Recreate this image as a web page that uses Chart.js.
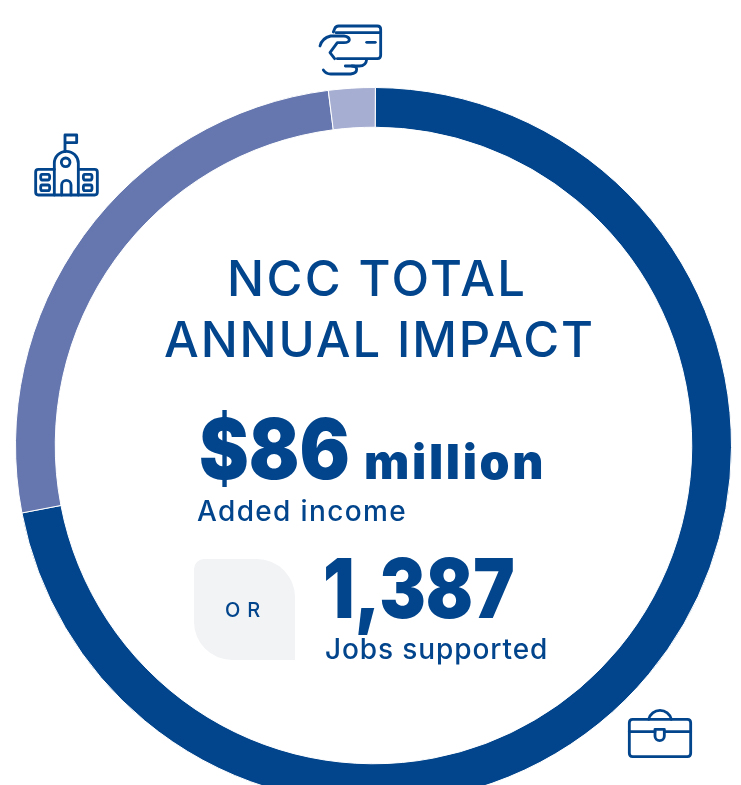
<!DOCTYPE html>
<html>
<head>
<meta charset="utf-8">
<script src="https://cdn.jsdelivr.net/npm/chart.js@4"></script>
<style>
    html, body { margin: 0; padding: 0; background: #fff; }
    #wrap { position: relative; width: 741px; height: 785px; overflow: hidden; }
    #wrap canvas { position: absolute; left: 0; top: 0; }
</style>
</head>
<body>
<div id="wrap"><canvas id="ringChart" width="747" height="891" style="width:747px;height:891px"></canvas></div>
<script>
// =====================
//  DATA
// =====================
const SLICE_LABELS = ["Jobs", "School", "Card"];
const SLICE_VALUES = [71.9, 26.0, 2.1];
const SLICE_COLORS = ["#03458c", "#6577ae", "#a6aed2"];

const BLUE = "#03458c";
const FONT = "Inter, 'Noto Sans', sans-serif";

// text, x, baseline y, font, letter spacing, x squeeze
const TEXTS = [
    ["NCC TOTAL", 227, 296, "500 49px " + FONT, "2.4px", 1],
    ["ANNUAL IMPACT", 164, 357, "500 49px " + FONT, "1.9px", 1],
    ["$86", 199, 479, "900 84px " + FONT, "0px", 0.89],
    ["million", 364, 479, "900 48px " + FONT, "2.7px", 1],
    ["Added income", 197, 521, "500 28px " + FONT, "1.35px", 1],
    ["OR", 225, 617, "500 20px " + FONT, "7px", 1],
    ["1,387", 323, 618, "900 83px " + FONT, "0px", 0.84],
    ["Jobs supported", 325, 659, "500 28px " + FONT, "0.9px", 1]
];

// icons are traced at 3x, dx/dy is the crop corner
const ICONS = [
    { dx: 300, dy: 10, paths: [
        "M100 66 L104 56 Q107 48 116 48 L232 48 Q242 48 242 58 L242 136 Q242 146 232 146 L112 146",
        "M108 68 L242 68",
        "M200 97 L226 97",
        "M60 108 Q66 84 92 78 L132 78 Q148 80 148 90 Q146 98 132 98 L112 98 L90 128 L104 146",
        "M200 148 Q198 168 178 168 L136 168",
        "M70 180 Q78 192 92 192 L152 192 Q170 190 170 178 Q170 168 156 168"
    ] },
    { dx: 20, dy: 120, paths: [
        "M135 95 L135 45 L170 45 L170 68 L135 68",
        "M103 225 L103 130 A36 36 0 0 1 175 130 L175 225",
        "M150 127 A13 13 0 1 1 124 127 A13 13 0 1 1 150 127",
        "M125 225 L125 195 A14 14 0 0 1 153 195 L153 225",
        "M103 148 L55 148 Q47 148 47 156 L47 217 Q47 225 55 225 L224 225 Q232 225 232 217 L232 156 Q232 148 224 148 L175 148",
        "M66 163 L84 163 Q89 163 89 171 Q89 180 84 180 L66 180 Q62 180 62 171 Q62 163 66 163",
        "M66 195 L84 195 Q89 195 89 203 Q89 212 84 212 L66 212 Q62 212 62 203 Q62 195 66 195",
        "M194 163 L212 163 Q216 163 216 171 Q216 180 212 180 L194 180 Q190 180 190 171 Q190 163 194 163",
        "M194 195 L212 195 Q216 195 216 203 Q216 212 212 212 L194 212 Q190 212 190 203 Q190 195 194 195"
    ] },
    { dx: 610, dy: 690, paths: [
        "M68 88 L232 88 Q242 88 242 98 L242 190 Q242 200 232 200 L68 200 Q58 200 58 190 L58 98 Q58 88 68 88",
        "M58 125 L135 125",
        "M163 125 L242 125",
        "M135 118 L163 118 L163 138 A14 14 0 0 1 135 138 Z",
        "M116 88 A35 35 0 0 1 184 88"
    ] }
];


// =====================
//  TEXT + ICONS OVERLAY
// =====================
const overlayPlugin = {
    id: "overlay",
    afterDraw(chart) {
        const ctx = chart.ctx;

        // OR box
        ctx.save();
        ctx.fillStyle = "#f2f3f5";
        ctx.beginPath();
        ctx.roundRect(194, 559, 101, 101, [10, 38, 0, 38]);
        ctx.fill();
        ctx.restore();

        TEXTS.forEach(([text, x, y, font, spacing, squeeze]) => {
            ctx.save();
            ctx.fillStyle = BLUE;
            ctx.textBaseline = "alphabetic";
            ctx.font = font;
            ctx.letterSpacing = spacing;
            ctx.translate(x, y);
            ctx.scale(squeeze, 1);
            ctx.fillText(text, 0, 0);
            ctx.restore();
        });

        ICONS.forEach((icon) => {
            ctx.save();
            ctx.translate(icon.dx, icon.dy);
            ctx.scale(1 / 3, 1 / 3);
            ctx.strokeStyle = BLUE;
            ctx.lineWidth = 8.5;
            ctx.lineCap = "round";
            ctx.lineJoin = "round";
            icon.paths.forEach((p) => ctx.stroke(new Path2D(p)));
            ctx.restore();
        });
    }
};


// =====================
//  RING
// =====================
const ringCtx = document.getElementById("ringChart").getContext("2d");

let ringChart = new Chart(ringCtx, {
    type: "doughnut",
    data: {
        labels: SLICE_LABELS,
        datasets: [
            {
                data: SLICE_VALUES,
                backgroundColor: SLICE_COLORS,
                borderColor: "#ffffff",
                borderWidth: 1
            }
        ]
    },
    options: {
        responsive: false,
        animation: false,
        devicePixelRatio: 1,
        rotation: 0.3,
        cutout: "88.9%",
        layout: { padding: { left: 15, right: 15, top: 87, bottom: 87 } },
        plugins: {
            legend: { display: false },
            tooltip: { enabled: false }
        }
    },
    plugins: [overlayPlugin]
});
</script>
</body>
</html>
